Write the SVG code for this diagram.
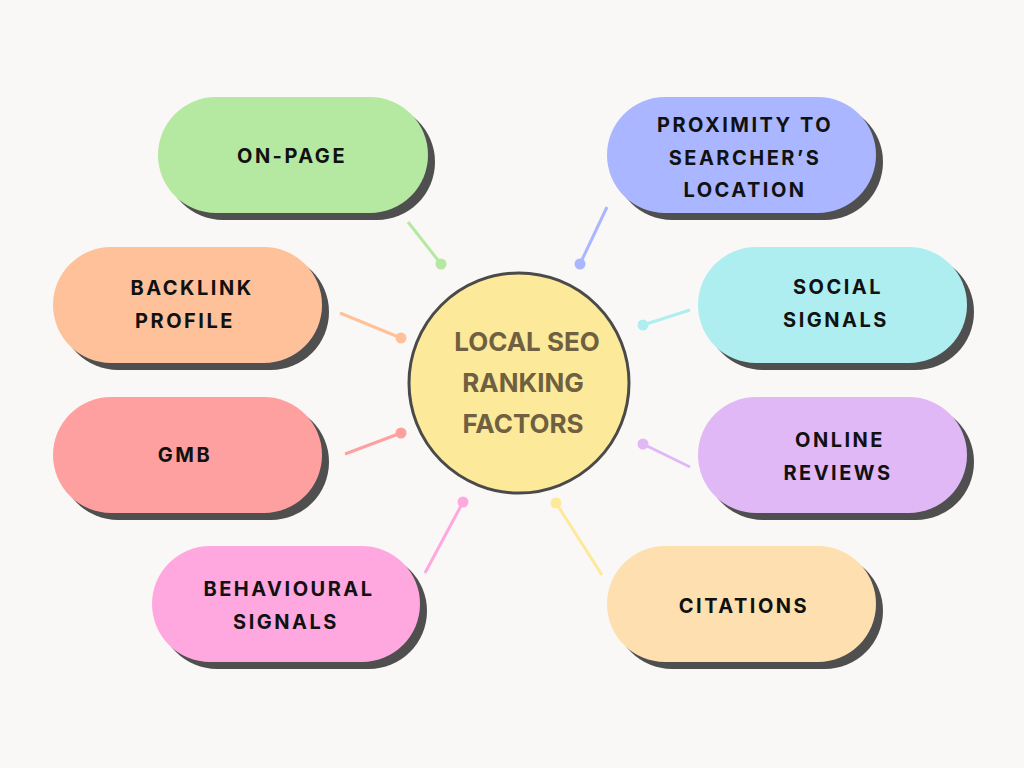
<svg xmlns="http://www.w3.org/2000/svg" width="1024" height="768" viewBox="0 0 1024 768">
<style>
.sh{fill:#4f4f4f}
.t{font-family:"Inter","Liberation Sans",sans-serif;font-weight:700;font-size:20px;letter-spacing:2.5px;fill:#111;text-anchor:middle}
.c{font-family:"Inter","Liberation Sans",sans-serif;font-weight:700;font-size:26px;fill:#6e6040;text-anchor:middle}
line{stroke-width:3}
</style>
<rect width="1024" height="768" fill="#faf8f6"/>
<g id="connectors">
<line x1="408" y1="222" x2="441" y2="264" stroke="#b5e8a0"/><circle cx="441" cy="264" r="5.5" fill="#b5e8a0"/>
<line x1="607" y1="207" x2="580" y2="264" stroke="#aab6ff"/><circle cx="580" cy="264" r="5.5" fill="#aab6ff"/>
<line x1="340" y1="313" x2="401" y2="338" stroke="#ffc19a"/><circle cx="401" cy="338" r="5.5" fill="#ffc19a"/>
<line x1="690" y1="310" x2="643" y2="325" stroke="#aeeef0"/><circle cx="643" cy="325" r="5.5" fill="#aeeef0"/>
<line x1="345" y1="454" x2="401" y2="433" stroke="#ffa0a0"/><circle cx="401" cy="433" r="5.5" fill="#ffa0a0"/>
<line x1="690" y1="467" x2="643" y2="444" stroke="#e0b8f5"/><circle cx="643" cy="444" r="5.5" fill="#e0b8f5"/>
<line x1="425" y1="573" x2="463" y2="502" stroke="#ffa8df"/><circle cx="463" cy="502" r="5.5" fill="#ffa8df"/>
<line x1="602" y1="575" x2="556" y2="503" stroke="#fde99a"/><circle cx="556" cy="503" r="5.5" fill="#fde99a"/>
</g>
<g id="center">
<circle cx="519" cy="383" r="110" fill="#fde99a" stroke="#4a4a4a" stroke-width="3"/>
<text class="c" x="527" y="351">LOCAL SEO</text>
<text class="c" x="523" y="392">RANKING</text>
<text class="c" x="523" y="433">FACTORS</text>
</g>
<g id="onpage"><rect class="sh" x="165" y="104" width="270" height="116" rx="58"/><rect x="158" y="97" width="270" height="116" rx="58" fill="#b5e8a0"/><text class="t" x="292" y="163">ON-PAGE</text></g>
<g id="proximity"><rect class="sh" x="614" y="104" width="269" height="116" rx="58"/><rect x="607" y="97" width="269" height="116" rx="58" fill="#aab6ff"/><text class="t" x="745" y="132">PROXIMITY TO</text><text class="t" x="745" y="165">SEARCHER’S</text><text class="t" x="745" y="197">LOCATION</text></g>
<g id="backlink"><rect class="sh" x="60" y="254" width="269" height="116" rx="58"/><rect x="53" y="247" width="269" height="116" rx="58" fill="#ffc19a"/><text class="t" x="192" y="295">BACKLINK</text><text class="t" x="185" y="328">PROFILE</text></g>
<g id="social"><rect class="sh" x="705" y="254" width="269" height="116" rx="58"/><rect x="698" y="247" width="269" height="116" rx="58" fill="#aeeef0"/><text class="t" x="838" y="294">SOCIAL</text><text class="t" x="836" y="327">SIGNALS</text></g>
<g id="gmb"><rect class="sh" x="60" y="404" width="269" height="116" rx="58"/><rect x="53" y="397" width="269" height="116" rx="58" fill="#ffa0a0"/><text class="t" x="185" y="462">GMB</text></g>
<g id="reviews"><rect class="sh" x="705" y="404" width="269" height="116" rx="58"/><rect x="698" y="397" width="269" height="116" rx="58" fill="#e0b8f5"/><text class="t" x="840" y="447">ONLINE</text><text class="t" x="838" y="480">REVIEWS</text></g>
<g id="behavioural"><rect class="sh" x="159" y="553" width="268" height="116" rx="58"/><rect x="152" y="546" width="268" height="116" rx="58" fill="#ffa8df"/><text class="t" x="289" y="596">BEHAVIOURAL</text><text class="t" x="286" y="629">SIGNALS</text></g>
<g id="citations"><rect class="sh" x="614" y="553" width="269" height="116" rx="58"/><rect x="607" y="546" width="269" height="116" rx="58" fill="#fee0b0"/><text class="t" x="744" y="613">CITATIONS</text></g>
</svg>
